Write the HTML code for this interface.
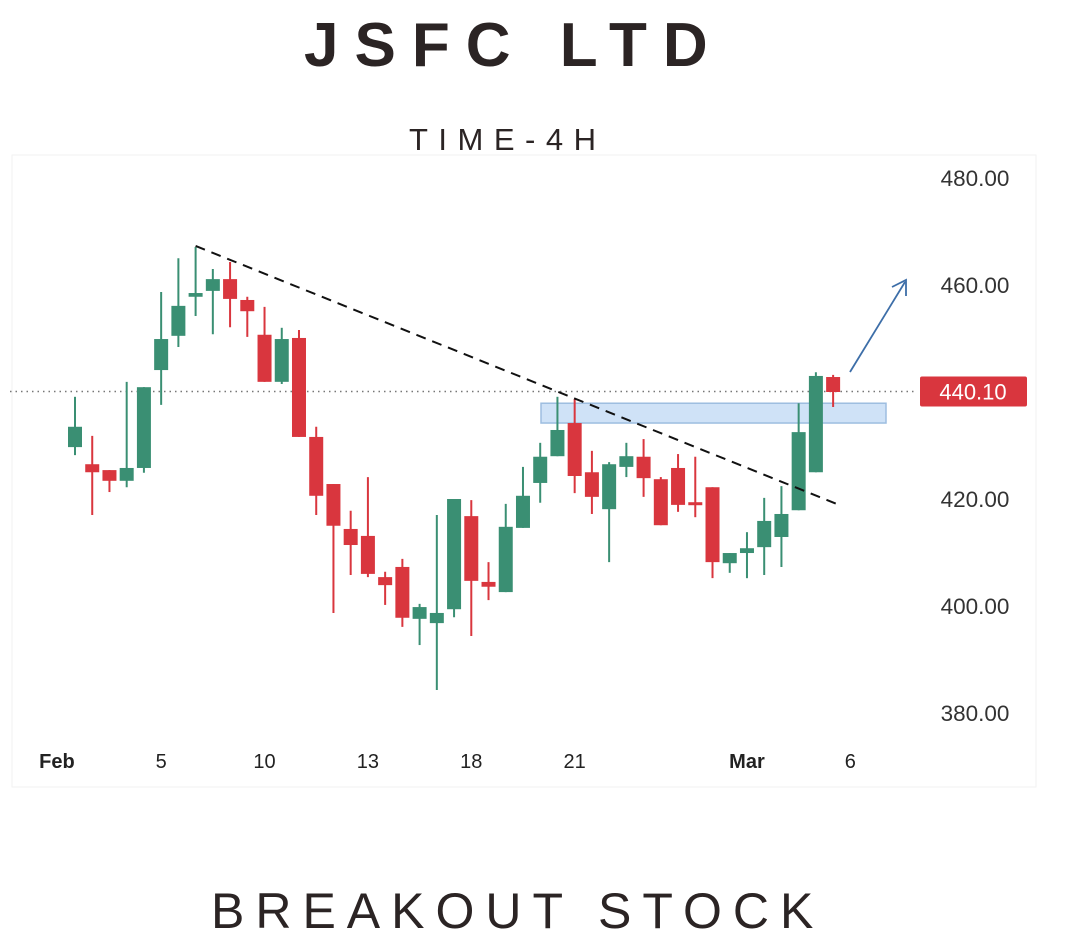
<!DOCTYPE html>
<html><head><meta charset="utf-8"><style>
html,body{margin:0;padding:0;background:#fff;}
body{width:1080px;height:940px;overflow:hidden;position:relative;font-family:"Liberation Sans",sans-serif;}
.t{position:absolute;color:#2b2424;white-space:nowrap;}
</style></head><body>
<div class="t" style="left:304px;top:10px;font-size:62px;font-weight:bold;letter-spacing:16px;">JSFC LTD</div>
<div class="t" style="left:409px;top:122px;font-size:31px;letter-spacing:10.5px;">TIME-4H</div>
<div class="t" style="left:211px;top:882px;font-size:50px;letter-spacing:11px;">BREAKOUT STOCK</div>
<svg id="chart" width="1080" height="940" style="position:absolute;left:0;top:0"></svg>
<script>
const opens=[429.7,426.5,425.4,423.4,425.8,444.1,450.5,457.8,458.9,461.1,457.2,450.7,441.9,450.1,431.6,422.8,414.4,413.1,405.4,407.3,397.6,396.8,399.4,416.8,404.5,402.6,414.6,423.0,428.0,434.2,425.0,418.1,426.0,427.9,423.7,425.8,419.4,422.2,408.0,409.9,411.0,412.9,417.9,425.0,442.8];
const closes=[433.5,425.0,423.4,425.8,440.9,449.9,456.1,458.5,461.1,457.4,455.1,441.9,449.9,431.6,420.6,415.0,411.4,406.0,403.9,397.8,399.8,398.7,420.0,404.7,403.6,414.8,420.6,427.9,432.9,424.3,420.4,426.5,428.0,423.9,415.1,418.9,419.1,408.2,409.9,410.8,415.9,417.2,432.5,443.0,440.0];
const highs=[439.1,431.8,425.4,441.9,440.9,458.7,465.0,467.1,463.0,464.3,457.8,455.9,452.0,451.6,433.5,422.8,417.8,424.1,406.4,408.8,400.4,417.0,420.0,419.8,408.2,419.1,426.0,430.5,439.1,438.7,429.0,426.9,430.5,431.2,424.1,428.4,427.9,422.2,409.9,413.8,420.2,422.4,437.9,443.7,443.2];
const lows=[428.2,417.0,421.3,422.2,424.9,437.6,448.4,454.2,450.8,452.1,450.3,441.9,441.5,431.6,417.0,398.7,405.8,405.4,400.2,396.1,392.7,384.3,397.9,394.4,401.1,402.6,414.6,419.3,428.0,421.1,417.2,408.2,424.1,420.4,415.1,417.6,416.6,405.2,406.2,405.2,405.8,407.3,417.9,425.0,437.2];
const yTicks=[480,460,440,420,400,380];
const yTickLabels=["480.00","460.00","440.00","420.00","400.00","380.00"];
const xTickIdx=[-1.05,5,11,17,23,29,39,45];
const xTickLabels=["Feb","5","10","13","18","21","Mar","6"];
const xTickBold=[true,false,false,false,false,false,true,false];
const lastPrice=440.10;
const zoneTop=437.9, zoneBottom=434.2;
const trend=[[7,467.3],[44.5,418.7]];

const NS="http://www.w3.org/2000/svg";
const svg=document.getElementById('chart');
const y=v=>178+(480-v)*5.35;
const x=i=>75+i*17.23;
function mk(tag,attrs,parent){const e=document.createElementNS(NS,tag);for(const k in attrs)e.setAttribute(k,attrs[k]);(parent||svg).appendChild(e);return e;}

const panel=mk('rect',{x:12,y:155,width:1024,height:632,fill:'none',stroke:'#f2f2f2','stroke-width':1});



yTicks.forEach((v,k)=>{
  if(v===440)return;
  const t=mk('text',{x:975,y:y(v)+8,'font-size':22.5,fill:'#333','text-anchor':'middle','font-family':'Liberation Sans, sans-serif'});
  t.textContent=yTickLabels[k];
  
  
});
xTickIdx.forEach((i,k)=>{
  const t=mk('text',{x:x(i),y:768,'font-size':20,fill:'#222','text-anchor':'middle','font-weight':xTickBold[k]?'bold':'normal','font-family':'Liberation Sans, sans-serif'});
  t.textContent=xTickLabels[k];
  
  
});
const z=mk('rect',{x:541,y:y(zoneTop),width:345,height:y(zoneBottom)-y(zoneTop),fill:'#cfe2f7',stroke:'#9dbde0','stroke-width':1.5});


const pl=mk('line',{x1:10,x2:915,y1:y(lastPrice),y2:y(lastPrice),stroke:'#777','stroke-width':1.5,'stroke-dasharray':'1.5 4'});


opens.forEach((o,i)=>{
  const c=closes[i],up=c>=o,col=up?'#3a8f73':'#d9363e';
  const g=mk('g',{});
  
  
  mk('line',{x1:x(i),x2:x(i),y1:y(highs[i]),y2:y(lows[i]),stroke:col,'stroke-width':2},g);
  const top=y(Math.max(o,c)),h=Math.max(3,Math.abs(y(o)-y(c)));
  mk('rect',{x:x(i)-7,y:top,width:14,height:h,fill:col},g);
});
const tl=mk('line',{x1:x(trend[0][0]),y1:y(trend[0][1]),x2:x(trend[1][0]),y2:y(trend[1][1]),stroke:'#111','stroke-width':2,'stroke-dasharray':'10 7'});


const ar=mk('g',{stroke:'#3d6ea8','stroke-width':1.8,fill:'none'});


mk('line',{x1:850,y1:372,x2:905,y2:282},ar);
mk('polyline',{points:'892,287 906,280 906,296'},ar);
const pg=mk('g',{});


mk('rect',{x:920,y:y(lastPrice)-15,width:107,height:30,fill:'#d9363e',rx:2},pg);
const pt=mk('text',{x:973,y:y(lastPrice)+8,'font-size':22,fill:'#fff','text-anchor':'middle','font-family':'Liberation Sans, sans-serif'},pg);
pt.textContent=lastPrice.toFixed(2);
</script>
</body></html>
